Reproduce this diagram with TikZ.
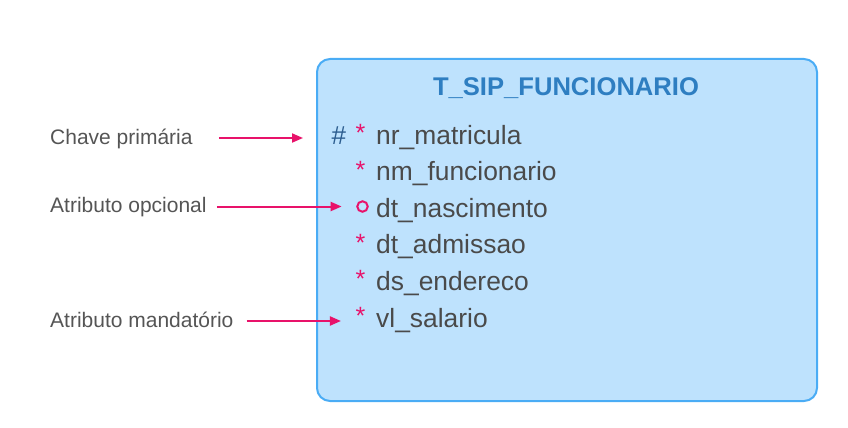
\documentclass[tikz,border=0pt]{standalone}
\usepackage{fontspec}
\setmainfont{Liberation Sans}
\usetikzlibrary{positioning,arrows.meta}

\definecolor{tabfill}{HTML}{BEE2FD}
\definecolor{tabline}{HTML}{4AACF5}
\definecolor{titleblue}{HTML}{2E7EC1}
\definecolor{attrgray}{HTML}{4A4A4A}
\definecolor{labelgray}{HTML}{555555}
\definecolor{hashblue}{HTML}{2C5D8F}
\definecolor{pinkred}{HTML}{E8126A}

\begin{document}
\begin{tikzpicture}[
      x=1pt,y=-1pt,
      tabbox/.style={
        draw=tabline,
        fill=tabfill,
        line width=2pt,
        rounded corners=13pt,
        minimum width=500pt,
        minimum height=342pt,
        anchor=north west
      },
      tabtitle/.style={
        font=\fontsize{25.6}{30}\selectfont\bfseries,
        text=titleblue,
        inner sep=0pt,
        anchor=base
      },
      attr/.style={
        font=\fontsize{26.4}{30}\selectfont,
        text=attrgray,
        inner sep=0pt,
        anchor=base west
      },
      mand/.style={
        font=\fontsize{25}{30}\selectfont,
        text=pinkred,
        inner sep=0pt,
        yshift=2.5pt,
        anchor=base east
      },
      pkey/.style={
        font=\fontsize{26}{30}\selectfont,
        text=hashblue,
        inner sep=0pt,
        anchor=base west
      },
      opt/.style={
        draw=pinkred,
        circle,
        line width=2pt,
        minimum size=10.5pt,
        inner sep=0pt
      },
      legend/.style={
        font=\fontsize{21}{25}\selectfont,
        text=labelgray,
        inner sep=0pt,
        text height=14pt,
        text depth=2pt,
        anchor=base west
      },
      pointer/.style={
        draw=pinkred,
        line width=2pt,
        -{Triangle[length=11pt,width=9pt]}
      }
    ]
    \useasboundingbox (0,0) rectangle (848,428);
    %% Table
    \node[tabbox] (tab) at (316,58) {};
    \node[tabtitle] (title) at (566,95) {T\_SIP\_FUNCIONARIO};
    %% Attributes
    \node[attr] (r-mat) at (376,144) {nr\_matricula};
    \node[attr] (r-func) at (376,180.6) {nm\_funcionario};
    \node[attr] (r-nasc) at (376,217.2) {dt\_nascimento};
    \node[attr] (r-adm) at (376,253.8) {dt\_admissao};
    \node[attr] (r-end) at (376,290.4) {ds\_endereco};
    \node[attr] (r-sal) at (376,327) {vl\_salario};
    %% Markers
    \node[pkey] (h-mat) at (331.5,144) {\#};
    \node[mand, left=10.4pt of r-mat.base west, anchor=base east] (s-mat) {*};
    \node[mand, left=10.4pt of r-func.base west, anchor=base east] (s-func) {*};
    \node[opt] (o-nasc) at (362.5,206.5) {};
    \node[mand, left=10.4pt of r-adm.base west, anchor=base east] (s-adm) {*};
    \node[mand, left=10.4pt of r-end.base west, anchor=base east] (s-end) {*};
    \node[mand, left=10.4pt of r-sal.base west, anchor=base east] (s-sal) {*};
    %% Legend
    \node[legend] (lbl-pk) at (50,144) {Chave primária};
    \node[legend] (lbl-opt) at (50,212.5) {Atributo opcional};
    \node[legend] (lbl-mand) at (50,327) {Atributo mandatório};
    %% Pointers
    \draw[pointer, shorten <=26pt, shorten >=13pt] (lbl-pk.east) -- (lbl-pk -| tab.west);
    \draw[pointer, shorten <=10pt, shorten >=14.6pt] (lbl-opt.east) -- (lbl-opt -| o-nasc.west);
    \draw[pointer, shorten <=13pt, shorten >=14.5pt] (lbl-mand.east) -- (lbl-mand -| s-sal.west);
  \end{tikzpicture}
\end{document}
